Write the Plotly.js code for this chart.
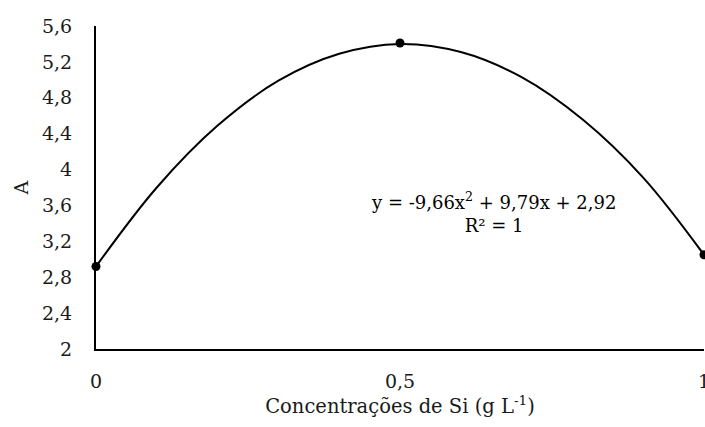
<!DOCTYPE html>
<html>
<head>
<meta charset="utf-8">
<script src="https://cdn.plot.ly/plotly-3.0.1.min.js"></script>
<style>html,body{margin:0;padding:0;background:#fff;}#chart{width:705px;height:427px;}</style>
</head>
<body>
<div id="chart"></div>
<script>
// Observed data points
const obsX = [0, 0.5, 1];
const obsY = [2.92, 5.41, 3.05];

// Trend curve
const curveX = [0, 0.1, 0.2, 0.3, 0.4, 0.5, 0.6, 0.7, 0.8, 0.9, 1.0];
const curveY = [2.92, 3.80, 4.49, 4.99, 5.29, 5.40, 5.31, 5.03, 4.56, 3.91, 3.05];

const xTickVals = [0, 0.5, 1];
const xTickText = ["0", "0,5", "1"];
const yTickVals = [2, 2.4, 2.8, 3.2, 3.6, 4, 4.4, 4.8, 5.2, 5.6];
const yTickText = ["2", "2,4", "2,8", "3,2", "3,6", "4", "4,4", "4,8", "5,2", "5,6"];

const equationText = "y = -9,66x<sup>2</sup> + 9,79x + 2,92<br>R² = 1";

const font = "DejaVu Serif";
const txt = "#1a1a1a";

const traces = [
  {
    x: curveX, y: curveY, mode: "lines", type: "scatter",
    line: {color: "#000", width: 2, shape: "spline", smoothing: 1},
    hoverinfo: "skip", showlegend: false, cliponaxis: false
  },
  {
    x: obsX, y: obsY, mode: "markers", type: "scatter",
    marker: {color: "#000", size: 9},
    showlegend: false, cliponaxis: false
  }
];

const layout = {
  width: 705, height: 427,
  margin: {l: 96, r: 1, t: 26, b: 78},
  paper_bgcolor: "#fff", plot_bgcolor: "#fff",
  font: {family: font, color: txt, size: 19},
  xaxis: {
    range: [0, 1], tickvals: xTickVals, ticktext: xTickText,
    showgrid: false, zeroline: false, showline: true, linecolor: "#000", linewidth: 2,
    ticks: "", ticklabelstandoff: 14, ticklabeloverflow: "allow", fixedrange: true,
    tickfont: {family: font, size: 19, color: txt},
    title: {text: "Concentrações de Si (g L<sup>-1</sup>)", font: {family: font, size: 19.5, color: txt}, standoff: 5}
  },
  yaxis: {
    range: [2, 5.6], tickvals: yTickVals, ticktext: yTickText,
    showgrid: false, zeroline: false, showline: true, linecolor: "#000", linewidth: 2,
    ticks: "", ticklabelstandoff: 18, fixedrange: true,
    tickfont: {family: font, size: 19, color: txt},
    title: {text: "A", font: {family: font, size: 19, color: txt}, standoff: 8}
  },
  annotations: [{
    text: equationText, x: 0.653, y: 3.52, xref: "x", yref: "y",
    showarrow: false, align: "center", xanchor: "center", yanchor: "middle",
    font: {family: font, size: 18, color: "#000"}
  }]
};

Plotly.newPlot("chart", traces, layout, {displayModeBar: false, staticPlot: true});
</script>
</body>
</html>
